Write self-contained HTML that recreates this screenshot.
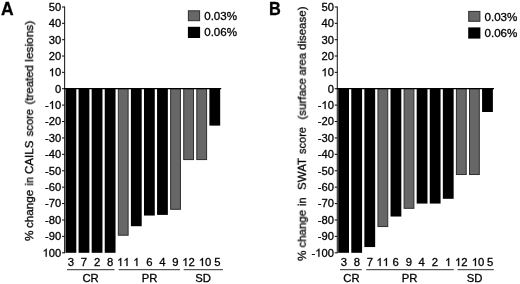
<!DOCTYPE html>
<html><head><meta charset="utf-8"><title>Figure</title>
<style>html,body{margin:0;padding:0;background:#fff;}body{width:520px;height:284px;overflow:hidden;}svg{display:block;}text{font-family:"Liberation Sans",sans-serif;fill:#000;stroke:#000;stroke-width:0.3px;filter:url(#soft);}path.one{fill:#000;stroke:#000;filter:url(#soft);}</style>
</head><body>
<svg width="520" height="284" viewBox="0 0 520 284">
<defs><filter id="soft" x="-5%" y="-5%" width="110%" height="110%"><feGaussianBlur stdDeviation="0.2"/></filter></defs>
<rect x="0" y="0" width="520" height="284" fill="#ffffff"/>
<text x="1.05" y="14.6" font-size="17.5" font-weight="bold">A</text>
<text transform="translate(33.1,241.00) rotate(-90)" font-size="11.3" textLength="10.50" lengthAdjust="spacingAndGlyphs">%</text>
<text transform="translate(33.1,228.00) rotate(-90)" font-size="11.3" textLength="38.30" lengthAdjust="spacingAndGlyphs">change</text>
<text transform="translate(33.1,185.50) rotate(-90)" font-size="11.3" textLength="8.50" lengthAdjust="spacingAndGlyphs">in</text>
<text transform="translate(33.1,174.00) rotate(-90)" font-size="11.3" textLength="33.50" lengthAdjust="spacingAndGlyphs">CAILS</text>
<text transform="translate(33.1,136.30) rotate(-90)" font-size="11.3" textLength="27.30" lengthAdjust="spacingAndGlyphs">score</text>
<text transform="translate(33.1,104.50) rotate(-90)" font-size="11.3" textLength="39.50" lengthAdjust="spacingAndGlyphs">(treated</text>
<text transform="translate(33.1,61.70) rotate(-90)" font-size="11.3" textLength="41.00" lengthAdjust="spacingAndGlyphs">lesions)</text>
<line x1="64.6" y1="6.4" x2="64.6" y2="253.3" stroke="#262626" stroke-width="1.1"/>
<line x1="61.99999999999999" y1="7.00" x2="64.6" y2="7.00" stroke="#111" stroke-width="1.05"/>
<text x="48.75" y="10.90" font-size="11.2">50</text>
<line x1="61.99999999999999" y1="23.34" x2="64.6" y2="23.34" stroke="#111" stroke-width="1.05"/>
<text x="48.75" y="27.24" font-size="11.2">40</text>
<line x1="61.99999999999999" y1="39.68" x2="64.6" y2="39.68" stroke="#111" stroke-width="1.05"/>
<text x="48.75" y="43.58" font-size="11.2">30</text>
<line x1="61.99999999999999" y1="56.02" x2="64.6" y2="56.02" stroke="#111" stroke-width="1.05"/>
<text x="48.75" y="59.92" font-size="11.2">20</text>
<line x1="61.99999999999999" y1="72.36" x2="64.6" y2="72.36" stroke="#111" stroke-width="1.05"/>
<path class="one" transform="translate(48.75,76.26) scale(0.005469,-0.005469)" stroke-width="54.9" d="M763 0H583V1147Q518 1085 412.5 1023T223 930V1104Q373 1174.5 485.5 1275T645 1470H763Z"/>
<text x="54.97" y="76.26" font-size="11.2">0</text>
<line x1="61.99999999999999" y1="88.70" x2="64.6" y2="88.70" stroke="#111" stroke-width="1.05"/>
<text x="54.97" y="92.60" font-size="11.2">0</text>
<line x1="61.99999999999999" y1="105.11" x2="64.6" y2="105.11" stroke="#111" stroke-width="1.05"/>
<text x="45.02" y="109.01" font-size="11.2">-</text>
<path class="one" transform="translate(48.75,109.01) scale(0.005469,-0.005469)" stroke-width="54.9" d="M763 0H583V1147Q518 1085 412.5 1023T223 930V1104Q373 1174.5 485.5 1275T645 1470H763Z"/>
<text x="54.97" y="109.01" font-size="11.2">0</text>
<line x1="61.99999999999999" y1="121.52" x2="64.6" y2="121.52" stroke="#111" stroke-width="1.05"/>
<text x="45.02" y="125.42" font-size="11.2">-20</text>
<line x1="61.99999999999999" y1="137.93" x2="64.6" y2="137.93" stroke="#111" stroke-width="1.05"/>
<text x="45.02" y="141.83" font-size="11.2">-30</text>
<line x1="61.99999999999999" y1="154.34" x2="64.6" y2="154.34" stroke="#111" stroke-width="1.05"/>
<text x="45.02" y="158.24" font-size="11.2">-40</text>
<line x1="61.99999999999999" y1="170.75" x2="64.6" y2="170.75" stroke="#111" stroke-width="1.05"/>
<text x="45.02" y="174.65" font-size="11.2">-50</text>
<line x1="61.99999999999999" y1="187.16" x2="64.6" y2="187.16" stroke="#111" stroke-width="1.05"/>
<text x="45.02" y="191.06" font-size="11.2">-60</text>
<line x1="61.99999999999999" y1="203.57" x2="64.6" y2="203.57" stroke="#111" stroke-width="1.05"/>
<text x="45.02" y="207.47" font-size="11.2">-70</text>
<line x1="61.99999999999999" y1="219.98" x2="64.6" y2="219.98" stroke="#111" stroke-width="1.05"/>
<text x="45.02" y="223.88" font-size="11.2">-80</text>
<line x1="61.99999999999999" y1="236.39" x2="64.6" y2="236.39" stroke="#111" stroke-width="1.05"/>
<text x="45.02" y="240.29" font-size="11.2">-90</text>
<line x1="61.99999999999999" y1="252.80" x2="64.6" y2="252.80" stroke="#111" stroke-width="1.05"/>
<path class="one" transform="translate(42.52,256.70) scale(0.005469,-0.005469)" stroke-width="54.9" d="M763 0H583V1147Q518 1085 412.5 1023T223 930V1104Q373 1174.5 485.5 1275T645 1470H763Z"/>
<text x="48.75" y="256.70" font-size="11.2">00</text>
<rect x="65.50" y="88.2" width="10.8" height="164.60" fill="#000000"/>
<rect x="78.58" y="88.2" width="10.8" height="164.60" fill="#000000"/>
<rect x="91.66" y="88.2" width="10.8" height="164.60" fill="#000000"/>
<rect x="104.74" y="88.2" width="10.8" height="164.60" fill="#000000"/>
<rect x="118.32" y="88.6" width="9.80" height="146.63" fill="#676767" stroke="#2e2e2e" stroke-width="1"/>
<rect x="130.90" y="88.2" width="10.8" height="138.02" fill="#000000"/>
<rect x="143.98" y="88.2" width="10.8" height="127.35" fill="#000000"/>
<rect x="157.06" y="88.2" width="10.8" height="126.69" fill="#000000"/>
<rect x="170.64" y="88.6" width="9.80" height="120.71" fill="#676767" stroke="#2e2e2e" stroke-width="1"/>
<rect x="183.72" y="88.6" width="9.80" height="70.98" fill="#676767" stroke="#2e2e2e" stroke-width="1"/>
<rect x="196.80" y="88.6" width="9.80" height="70.98" fill="#676767" stroke="#2e2e2e" stroke-width="1"/>
<rect x="209.38" y="88.2" width="10.8" height="37.42" fill="#000000"/>
<line x1="63.99999999999999" y1="88.6" x2="221.2" y2="88.6" stroke="#000" stroke-width="1.2"/>
<text x="67.76" y="266.00" font-size="11.3">3</text>
<text x="80.86" y="266.00" font-size="11.3">7</text>
<text x="93.96" y="266.00" font-size="11.3">2</text>
<text x="107.06" y="266.00" font-size="11.3">8</text>
<path class="one" transform="translate(117.02,266.00) scale(0.005518,-0.005518)" stroke-width="54.4" d="M763 0H583V1147Q518 1085 412.5 1023T223 930V1104Q373 1174.5 485.5 1275T645 1470H763Z"/>
<path class="one" transform="translate(123.30,266.00) scale(0.005518,-0.005518)" stroke-width="54.4" d="M763 0H583V1147Q518 1085 412.5 1023T223 930V1104Q373 1174.5 485.5 1275T645 1470H763Z"/>
<path class="one" transform="translate(133.16,266.00) scale(0.005518,-0.005518)" stroke-width="54.4" d="M763 0H583V1147Q518 1085 412.5 1023T223 930V1104Q373 1174.5 485.5 1275T645 1470H763Z"/>
<text x="146.16" y="266.00" font-size="11.3">6</text>
<text x="159.16" y="266.00" font-size="11.3">4</text>
<text x="172.16" y="266.00" font-size="11.3">9</text>
<path class="one" transform="translate(182.12,266.00) scale(0.005518,-0.005518)" stroke-width="54.4" d="M763 0H583V1147Q518 1085 412.5 1023T223 930V1104Q373 1174.5 485.5 1275T645 1470H763Z"/>
<text x="188.40" y="266.00" font-size="11.3">2</text>
<path class="one" transform="translate(198.72,266.00) scale(0.005518,-0.005518)" stroke-width="54.4" d="M763 0H583V1147Q518 1085 412.5 1023T223 930V1104Q373 1174.5 485.5 1275T645 1470H763Z"/>
<text x="205.00" y="266.00" font-size="11.3">0</text>
<text x="214.36" y="266.00" font-size="11.3">5</text>
<line x1="67" y1="269.7" x2="114.5" y2="269.7" stroke="#222" stroke-width="0.95"/>
<text x="90.6" y="281.5" text-anchor="middle" font-size="11.3">CR</text>
<line x1="118.7" y1="269.7" x2="180" y2="269.7" stroke="#222" stroke-width="0.95"/>
<text x="149.5" y="281.5" text-anchor="middle" font-size="11.3">PR</text>
<line x1="183.7" y1="269.7" x2="223" y2="269.7" stroke="#222" stroke-width="0.95"/>
<text x="203.1" y="281.5" text-anchor="middle" font-size="11.3">SD</text>
<rect x="188.4" y="10.8" width="11.2" height="9.9" fill="#676767" stroke="#2e2e2e" stroke-width="1"/>
<rect x="187.9" y="26.8" width="12.2" height="11.2" fill="#000000"/>
<text x="204.20000000000002" y="20.2" font-size="11.6">0.03%</text>
<text x="204.20000000000002" y="36.1" font-size="11.6">0.06%</text>
<text x="269.0" y="14.6" font-size="17.5" font-weight="bold" textLength="11.8" lengthAdjust="spacingAndGlyphs">B</text>
<text transform="translate(305.8,261.00) rotate(-90)" font-size="11.3" textLength="10.50" lengthAdjust="spacingAndGlyphs">%</text>
<text transform="translate(305.8,247.50) rotate(-90)" font-size="11.3" textLength="37.50" lengthAdjust="spacingAndGlyphs">change</text>
<text transform="translate(305.8,206.00) rotate(-90)" font-size="11.3" textLength="8.50" lengthAdjust="spacingAndGlyphs">in</text>
<text transform="translate(305.8,190.00) rotate(-90)" font-size="11.3" textLength="32.00" lengthAdjust="spacingAndGlyphs">SWAT</text>
<text transform="translate(305.8,154.00) rotate(-90)" font-size="11.3" textLength="27.00" lengthAdjust="spacingAndGlyphs">score</text>
<text transform="translate(305.8,119.50) rotate(-90)" font-size="11.3" textLength="41.50" lengthAdjust="spacingAndGlyphs">(surface</text>
<text transform="translate(305.8,75.50) rotate(-90)" font-size="11.3" textLength="22.50" lengthAdjust="spacingAndGlyphs">area</text>
<text transform="translate(305.8,50.00) rotate(-90)" font-size="11.3" textLength="43.50" lengthAdjust="spacingAndGlyphs">disease)</text>
<line x1="337.29999999999995" y1="6.4" x2="337.29999999999995" y2="253.3" stroke="#262626" stroke-width="1.1"/>
<line x1="334.69999999999993" y1="7.00" x2="337.29999999999995" y2="7.00" stroke="#111" stroke-width="1.05"/>
<text x="321.45" y="10.90" font-size="11.2">50</text>
<line x1="334.69999999999993" y1="23.34" x2="337.29999999999995" y2="23.34" stroke="#111" stroke-width="1.05"/>
<text x="321.45" y="27.24" font-size="11.2">40</text>
<line x1="334.69999999999993" y1="39.68" x2="337.29999999999995" y2="39.68" stroke="#111" stroke-width="1.05"/>
<text x="321.45" y="43.58" font-size="11.2">30</text>
<line x1="334.69999999999993" y1="56.02" x2="337.29999999999995" y2="56.02" stroke="#111" stroke-width="1.05"/>
<text x="321.45" y="59.92" font-size="11.2">20</text>
<line x1="334.69999999999993" y1="72.36" x2="337.29999999999995" y2="72.36" stroke="#111" stroke-width="1.05"/>
<path class="one" transform="translate(321.45,76.26) scale(0.005469,-0.005469)" stroke-width="54.9" d="M763 0H583V1147Q518 1085 412.5 1023T223 930V1104Q373 1174.5 485.5 1275T645 1470H763Z"/>
<text x="327.67" y="76.26" font-size="11.2">0</text>
<line x1="334.69999999999993" y1="88.70" x2="337.29999999999995" y2="88.70" stroke="#111" stroke-width="1.05"/>
<text x="327.67" y="92.60" font-size="11.2">0</text>
<line x1="334.69999999999993" y1="105.11" x2="337.29999999999995" y2="105.11" stroke="#111" stroke-width="1.05"/>
<text x="317.72" y="109.01" font-size="11.2">-</text>
<path class="one" transform="translate(321.45,109.01) scale(0.005469,-0.005469)" stroke-width="54.9" d="M763 0H583V1147Q518 1085 412.5 1023T223 930V1104Q373 1174.5 485.5 1275T645 1470H763Z"/>
<text x="327.67" y="109.01" font-size="11.2">0</text>
<line x1="334.69999999999993" y1="121.52" x2="337.29999999999995" y2="121.52" stroke="#111" stroke-width="1.05"/>
<text x="317.72" y="125.42" font-size="11.2">-20</text>
<line x1="334.69999999999993" y1="137.93" x2="337.29999999999995" y2="137.93" stroke="#111" stroke-width="1.05"/>
<text x="317.72" y="141.83" font-size="11.2">-30</text>
<line x1="334.69999999999993" y1="154.34" x2="337.29999999999995" y2="154.34" stroke="#111" stroke-width="1.05"/>
<text x="317.72" y="158.24" font-size="11.2">-40</text>
<line x1="334.69999999999993" y1="170.75" x2="337.29999999999995" y2="170.75" stroke="#111" stroke-width="1.05"/>
<text x="317.72" y="174.65" font-size="11.2">-50</text>
<line x1="334.69999999999993" y1="187.16" x2="337.29999999999995" y2="187.16" stroke="#111" stroke-width="1.05"/>
<text x="317.72" y="191.06" font-size="11.2">-60</text>
<line x1="334.69999999999993" y1="203.57" x2="337.29999999999995" y2="203.57" stroke="#111" stroke-width="1.05"/>
<text x="317.72" y="207.47" font-size="11.2">-70</text>
<line x1="334.69999999999993" y1="219.98" x2="337.29999999999995" y2="219.98" stroke="#111" stroke-width="1.05"/>
<text x="317.72" y="223.88" font-size="11.2">-80</text>
<line x1="334.69999999999993" y1="236.39" x2="337.29999999999995" y2="236.39" stroke="#111" stroke-width="1.05"/>
<text x="317.72" y="240.29" font-size="11.2">-90</text>
<line x1="334.69999999999993" y1="252.80" x2="337.29999999999995" y2="252.80" stroke="#111" stroke-width="1.05"/>
<text x="311.49" y="256.70" font-size="11.2">-</text>
<path class="one" transform="translate(315.22,256.70) scale(0.005469,-0.005469)" stroke-width="54.9" d="M763 0H583V1147Q518 1085 412.5 1023T223 930V1104Q373 1174.5 485.5 1275T645 1470H763Z"/>
<text x="321.45" y="256.70" font-size="11.2">00</text>
<rect x="338.20" y="88.2" width="10.8" height="164.60" fill="#000000"/>
<rect x="351.28" y="88.2" width="10.8" height="164.60" fill="#000000"/>
<rect x="364.36" y="88.2" width="10.8" height="158.86" fill="#000000"/>
<rect x="377.94" y="88.6" width="9.80" height="137.94" fill="#676767" stroke="#2e2e2e" stroke-width="1"/>
<rect x="390.52" y="88.2" width="10.8" height="128.33" fill="#000000"/>
<rect x="404.10" y="88.6" width="9.80" height="119.72" fill="#676767" stroke="#2e2e2e" stroke-width="1"/>
<rect x="416.68" y="88.2" width="10.8" height="115.37" fill="#000000"/>
<rect x="429.76" y="88.2" width="10.8" height="115.37" fill="#000000"/>
<rect x="442.84" y="88.2" width="10.8" height="110.61" fill="#000000"/>
<rect x="456.42" y="88.6" width="9.80" height="85.92" fill="#676767" stroke="#2e2e2e" stroke-width="1"/>
<rect x="469.50" y="88.6" width="9.80" height="85.92" fill="#676767" stroke="#2e2e2e" stroke-width="1"/>
<rect x="482.08" y="88.2" width="10.8" height="23.80" fill="#000000"/>
<line x1="336.69999999999993" y1="88.6" x2="494" y2="88.6" stroke="#000" stroke-width="1.2"/>
<text x="340.86" y="266.00" font-size="11.3">3</text>
<text x="353.66" y="266.00" font-size="11.3">8</text>
<text x="366.66" y="266.00" font-size="11.3">7</text>
<path class="one" transform="translate(376.42,266.00) scale(0.005518,-0.005518)" stroke-width="54.4" d="M763 0H583V1147Q518 1085 412.5 1023T223 930V1104Q373 1174.5 485.5 1275T645 1470H763Z"/>
<path class="one" transform="translate(382.70,266.00) scale(0.005518,-0.005518)" stroke-width="54.4" d="M763 0H583V1147Q518 1085 412.5 1023T223 930V1104Q373 1174.5 485.5 1275T645 1470H763Z"/>
<text x="392.46" y="266.00" font-size="11.3">6</text>
<text x="405.66" y="266.00" font-size="11.3">9</text>
<text x="418.46" y="266.00" font-size="11.3">4</text>
<text x="431.76" y="266.00" font-size="11.3">2</text>
<path class="one" transform="translate(444.96,266.00) scale(0.005518,-0.005518)" stroke-width="54.4" d="M763 0H583V1147Q518 1085 412.5 1023T223 930V1104Q373 1174.5 485.5 1275T645 1470H763Z"/>
<path class="one" transform="translate(454.92,266.00) scale(0.005518,-0.005518)" stroke-width="54.4" d="M763 0H583V1147Q518 1085 412.5 1023T223 930V1104Q373 1174.5 485.5 1275T645 1470H763Z"/>
<text x="461.20" y="266.00" font-size="11.3">2</text>
<path class="one" transform="translate(471.72,266.00) scale(0.005518,-0.005518)" stroke-width="54.4" d="M763 0H583V1147Q518 1085 412.5 1023T223 930V1104Q373 1174.5 485.5 1275T645 1470H763Z"/>
<text x="478.00" y="266.00" font-size="11.3">0</text>
<text x="487.06" y="266.00" font-size="11.3">5</text>
<line x1="340" y1="269.7" x2="361.8" y2="269.7" stroke="#222" stroke-width="0.95"/>
<text x="351.5" y="281.5" text-anchor="middle" font-size="11.3">CR</text>
<line x1="366.2" y1="269.7" x2="453.8" y2="269.7" stroke="#222" stroke-width="0.95"/>
<text x="409.6" y="281.5" text-anchor="middle" font-size="11.3">PR</text>
<line x1="457.5" y1="269.7" x2="493.8" y2="269.7" stroke="#222" stroke-width="0.95"/>
<text x="474.5" y="281.5" text-anchor="middle" font-size="11.3">SD</text>
<rect x="468.7" y="11.4" width="11.2" height="9.9" fill="#676767" stroke="#2e2e2e" stroke-width="1"/>
<rect x="468.2" y="27.400000000000002" width="12.2" height="11.2" fill="#000000"/>
<text x="484.5" y="20.8" font-size="11.6">0.03%</text>
<text x="484.5" y="36.7" font-size="11.6">0.06%</text>
</svg></body></html>
